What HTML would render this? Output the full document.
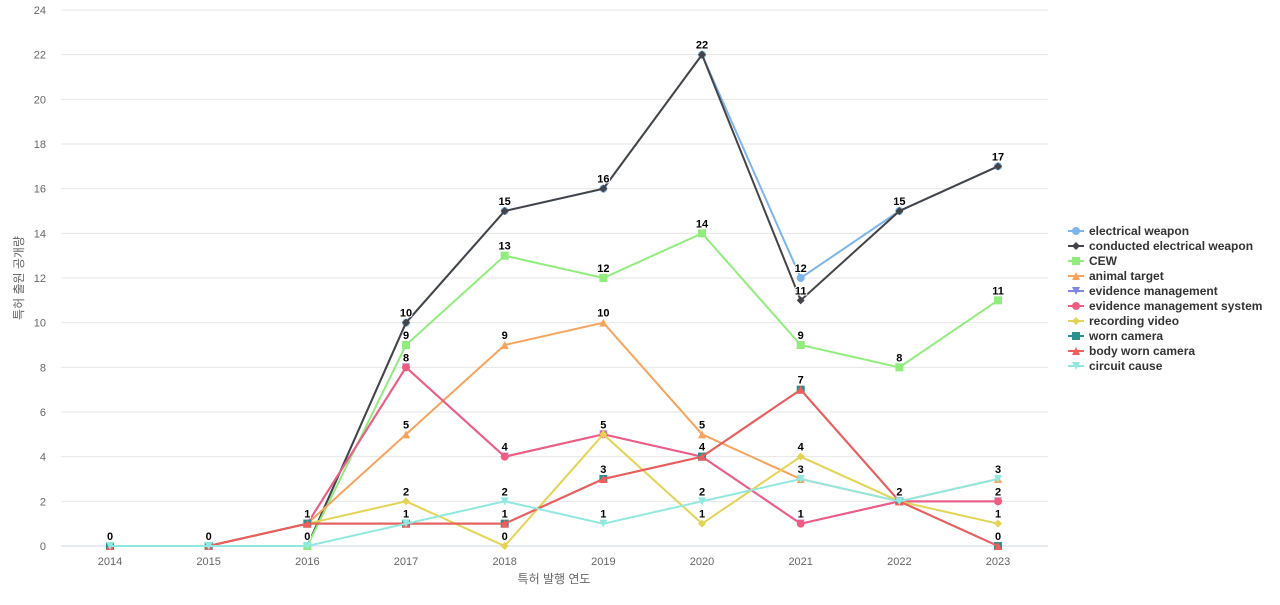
<!DOCTYPE html>
<html><head><meta charset="utf-8"><style>
body{margin:0;background:#fff;}
svg{font-family:"Liberation Sans","Noto Sans CJK KR",sans-serif;}
</style></head><body>
<svg width="1280" height="600" xmlns="http://www.w3.org/2000/svg" id="s"></svg>
<script>
const s=document.getElementById('s');
const X=y=>110+(y)*98.67, Y=v=>546-v*22.333;
let h='';
for(let v=0;v<=24;v+=2){h+=`<line x1="61" x2="1048" y1="${Y(v)}" y2="${Y(v)}" stroke="${v?'#e6e6e6':'#ccd6eb'}"/>`;
h+=`<text x="46" y="${Y(v)+4}" font-size="11" fill="#666" text-anchor="end">${v}</text>`;}
for(let i=0;i<10;i++)h+=`<text x="${X(i)}" y="565" font-size="11" fill="#666" text-anchor="middle">${2014+i}</text>`;
h+=`<text x="554" y="583" font-size="12" fill="#666" text-anchor="middle">특허 발행 연도</text>`;
h+=`<text transform="translate(23,278) rotate(-90)" font-size="12" fill="#666" text-anchor="middle">특허 출원 공개량</text>`;
const S=[
['electrical weapon','#7cb5ec','c',[0,0,0,10,15,16,22,12,15,17]],
['conducted electrical weapon','#434348','d',[0,0,0,10,15,16,22,11,15,17]],
['CEW','#90ed7d','s',[0,0,0,9,13,12,14,9,8,11]],
['animal target','#f7a35c','t',[0,0,1,5,9,10,5,3,2,3]],
['evidence management','#8085e9','v',[0,0,1,8,4,5,4,1,2,2]],
['evidence management system','#f15c80','c',[0,0,1,8,4,5,4,1,2,2]],
['recording video','#e4d354','d',[0,0,1,2,0,5,1,4,2,1]],
['worn camera','#2b908f','s',[0,0,1,1,1,3,4,7,2,0]],
['body worn camera','#f45b5b','t',[0,0,1,1,1,3,4,7,2,0]],
['circuit cause','#91e8e1','v',[0,0,0,1,2,1,2,3,2,3]]];
function mk(t,x,y,c){
 if(t=='c')return `<circle cx="${x}" cy="${y}" r="4" fill="${c}"/>`;
 if(t=='d')return `<path d="M${x} ${y-4}L${x+4} ${y}L${x} ${y+4}L${x-4} ${y}Z" fill="${c}"/>`;
 if(t=='s')return `<rect x="${x-4}" y="${y-4}" width="8" height="8" fill="${c}"/>`;
 if(t=='t')return `<path d="M${x} ${y-4}L${x+4} ${y+4}L${x-4} ${y+4}Z" fill="${c}"/>`;
 return `<path d="M${x} ${y+4}L${x+4} ${y-4}L${x-4} ${y-4}Z" fill="${c}"/>`;}
let L='';
S.forEach((sr,k)=>{const [n,c,t,d]=sr;
 h+=`<polyline fill="none" stroke="${c}" stroke-width="2" points="${d.map((v,i)=>X(i)+','+Y(v)).join(' ')}"/>`;
 d.forEach((v,i)=>{h+=mk(t,X(i),Y(v),c);});
 const ly=231+k*15;
 L+=`<line x1="1068" x2="1084" y1="${ly}" y2="${ly}" stroke="${c}" stroke-width="2"/>`+mk(t,1076,ly,c)+`<text x="1089" y="${ly+4}" font-size="12" font-weight="bold" fill="#333">${n}</text>`;
});
const lab=[[0,0,0],[1,0,0],[2,1,1],[2,0,0],[3,10,10],[3,9,9],[3,8,8],[3,5,5],[3,2,2],[3,1,1],[4,15,15],[4,13,13],[4,9,9],[4,4,4],[4,2,2],[4,1,1],[4,0,0],[5,16,16],[5,12,12],[5,10,10],[5,5,5],[5,3,3],[5,1,1],[6,22,22],[6,14,14],[6,5,5],[6,4,4],[6,2,2],[6,1,1],[7,12,12],[7,11,11],[7,9,9],[7,7,7],[7,4,4],[7,3,3],[7,1,1],[8,15,15],[8,8,8],[8,2,2],[9,17,17],[9,11,11],[9,3,3],[9,2,2],[9,1,1],[9,0,0]];
lab.forEach(([i,v,t])=>{h+=`<text x="${X(i)}" y="${Y(v)-6}" font-size="11" font-weight="bold" fill="#000" text-anchor="middle" stroke="#fff" stroke-width="2" paint-order="stroke">${t}</text>`;});
s.innerHTML=h+L;
</script>
</body></html>
